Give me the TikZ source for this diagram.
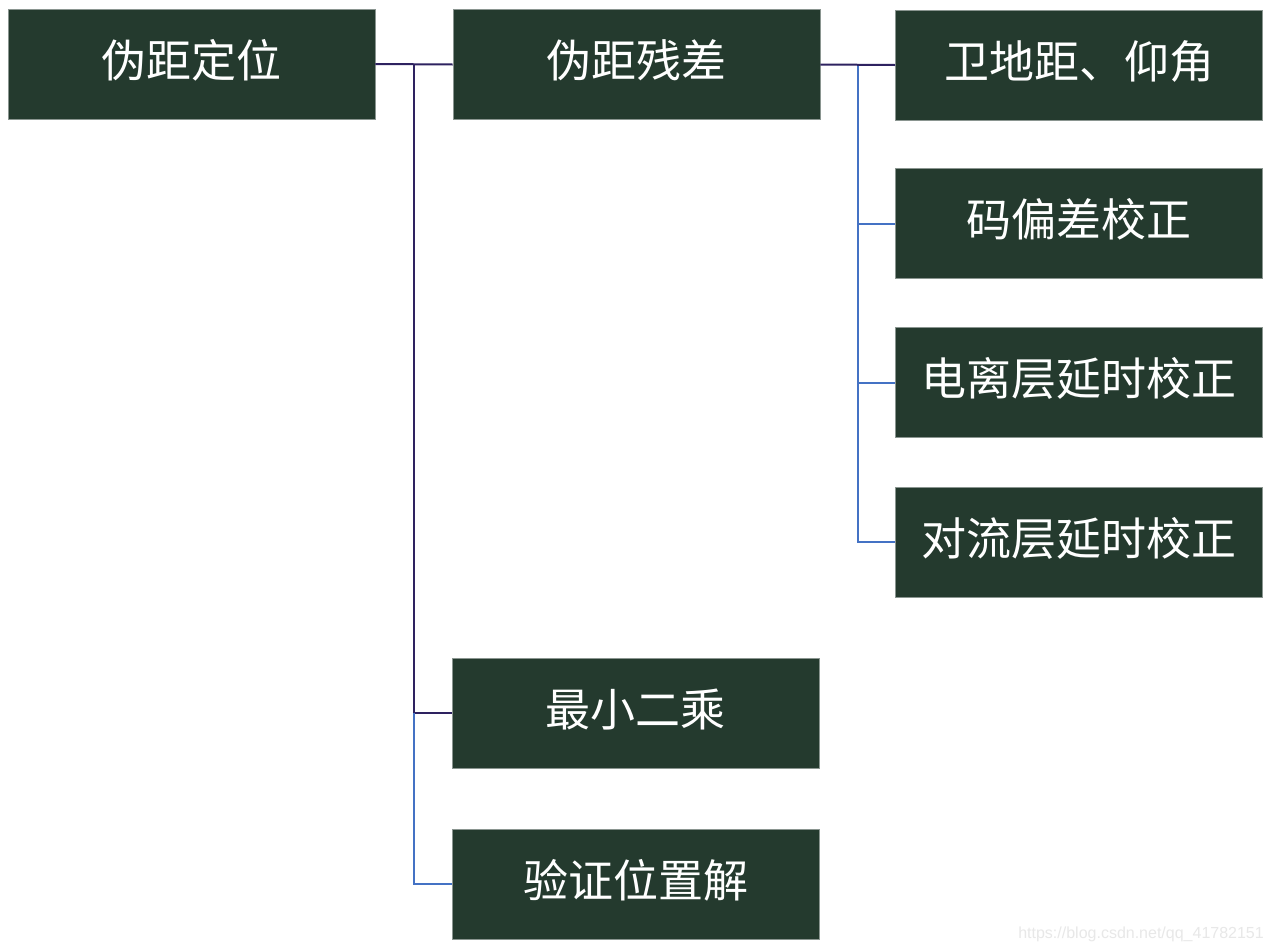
\documentclass[tikz,border=0pt]{standalone}
\usepackage{fontspec}
\newfontfamily\cjk{Noto Sans CJK SC}
\newfontfamily\wm{Liberation Sans}
\usetikzlibrary{calc}
\definecolor{boxgreen}{HTML}{243A2E}
\definecolor{boxedge}{HTML}{8A9590}
\definecolor{darkline}{HTML}{2E2260}
\definecolor{blueline}{HTML}{4472C4}
\tikzset{
  box/.style={rectangle, minimum width=367pt, minimum height=110pt, inner sep=0pt,
    text height=38pt, text depth=12pt,
    fill=boxgreen, draw=boxedge, line width=0.8pt, text=white,
    font=\cjk\fontsize{45}{52}\selectfont},
  darkconn/.style={draw=darkline, line width=2pt},
  blueconn/.style={draw=blueline, line width=2pt}
}
\begin{document}
\begin{tikzpicture}[x=1pt,y=-1pt]
\useasboundingbox[fill=white] (0,0) rectangle (1272,951);
\node[box] (a) at (191.5,64) {伪距定位};
\node[box] (b) at (636.5,64.5) {伪距残差};
\node[box] (c1) at (1079,65) {卫地距、仰角};
\node[box] (c2) at (1079,223.5) {码偏差校正};
\node[box] (c3) at (1079,382.5) {电离层延时校正};
\node[box] (c4) at (1079,542) {对流层延时校正};
\node[box] (d) at (635.5,713) {最小二乘};
\node[box] (e) at (635.5,884) {验证位置解};
\coordinate (j1) at ($(a.east)!0.5!(b.west)$);
\coordinate (j2) at ($(b.east)!0.5!(c1.west)$);
\draw[darkconn] (a.east) -- (b.west);
\draw[darkconn] (j1) |- (d.west);
\draw[blueconn] (d.west -| j1) |- (e.west);
\draw[blueconn] (j2) |- (c2.west);
\draw[blueconn] (j2) |- (c3.west);
\draw[blueconn] (j2) |- (c4.west);
\draw[darkconn] (b.east) -- (c1.west);
\node[anchor=east, text=black!9, font=\wm\fontsize{16}{18}\selectfont, inner sep=0pt] (w) at (1264,934) {https://blog.csdn.net/qq\_41782151};
\end{tikzpicture}
\end{document}
